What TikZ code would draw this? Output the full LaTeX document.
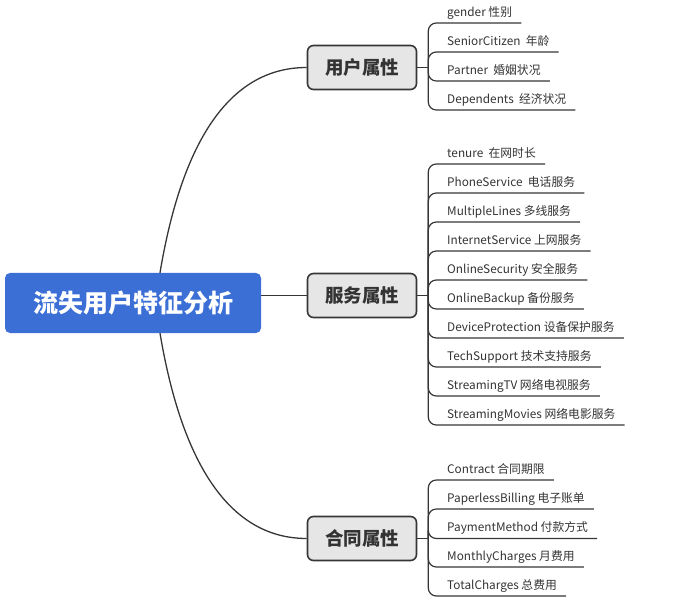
\documentclass[tikz,border=0pt]{standalone}
\usepackage{fontspec}
\setmainfont{Noto Sans CJK SC}
\begin{document}
\begin{tikzpicture}[x=1pt,y=-1pt,
  rootbox/.style={draw=none,fill=rootblue,rounded corners=5pt,minimum width=256pt,minimum height=60pt,
    text=white,font=\fontsize{25}{28}\selectfont\bfseries,inner sep=0pt},
  topicbox/.style={draw=linegrey,line width=1.6pt,fill=topicfill,rounded corners=6pt,minimum width=109pt,
    minimum height=44pt,text=textgrey,font=\fontsize{18.5}{21}\selectfont\bfseries,inner sep=0pt},
  leaf/.style={anchor=south west,inner xsep=9pt,inner ysep=6.5pt,text depth=0pt,text=textgrey,
    font=\fontsize{11.8}{13}\selectfont},
  branch/.style={draw=linegrey,line width=1.2pt,rounded corners=8pt},
  stub/.style={draw=linegrey,line width=1.2pt},
  maincurve/.style={draw=linegrey,line width=1.3pt}
]
\definecolor{rootblue}{HTML}{3B6FD6}
\definecolor{topicfill}{HTML}{E6E6E6}
\definecolor{linegrey}{HTML}{363636}
\definecolor{textgrey}{HTML}{333333}
\useasboundingbox (0,0) rectangle (682,609);

\node[rootbox] (r) at (133,303) {流失用户特征分析};
\node[topicbox] (p1) at (362,67.5) {用户属性};
\node[topicbox] (p2) at (362,295.5) {服务属性};
\node[topicbox] (p3) at (362,538.5) {合同属性};

\coordinate (rt) at ([xshift=27pt]r.north);
\coordinate (rb) at ([xshift=27pt]r.south);
\draw[maincurve] (rt) .. controls (183,135) and (233,67.5) .. (p1.west);
\draw[maincurve] (rb) .. controls (183,470) and (233,538.5) .. (p3.west);
\draw[maincurve] (r.east |- p2.west) -- (p2.west);

\coordinate (b1) at ([xshift=11pt]p1.east);
\coordinate (b2) at ([xshift=11pt]p2.east);
\coordinate (b3) at ([xshift=11pt]p3.east);
\draw[stub] (p1.east) -- (b1);
\draw[stub] (p2.east) -- (b2);
\draw[stub] (p3.east) -- (b3);

\foreach \n/\y/\t in {a1/23/{gender 性别}, a2/52/{SeniorCitizen~ 年龄}, a3/81/{Partner~ 婚姻状况}, a4/110/{Dependents~ 经济状况}}{
  \node[leaf] (\n) at (438,\y) {\t};
  \draw[branch] (b1) |- (\n.south east);
}
\foreach \n/\y/\t in {s1/164/{tenure~ 在网时长}, s2/193/{PhoneService~ 电话服务}, s3/222/{MultipleLines 多线服务},
  s4/251/{InternetService 上网服务}, s5/280/{OnlineSecurity 安全服务}, s6/309/{OnlineBackup 备份服务},
  s7/338/{DeviceProtection 设备保护服务}, s8/367/{TechSupport 技术支持服务}, s9/396/{StreamingTV 网络电视服务},
  s10/425/{StreamingMovies 网络电影服务}}{
  \node[leaf] (\n) at (438,\y) {\t};
  \draw[branch] (b2) |- (\n.south east);
}
\foreach \n/\y/\t in {c1/480/{Contract 合同期限}, c2/509/{PaperlessBilling 电子账单}, c3/538.5/{PaymentMethod 付款方式},
  c4/567/{MonthlyCharges 月费用}, c5/596/{TotalCharges 总费用}}{
  \node[leaf] (\n) at (438,\y) {\t};
  \draw[branch] (b3) |- (\n.south east);
}
\end{tikzpicture}
\end{document}
